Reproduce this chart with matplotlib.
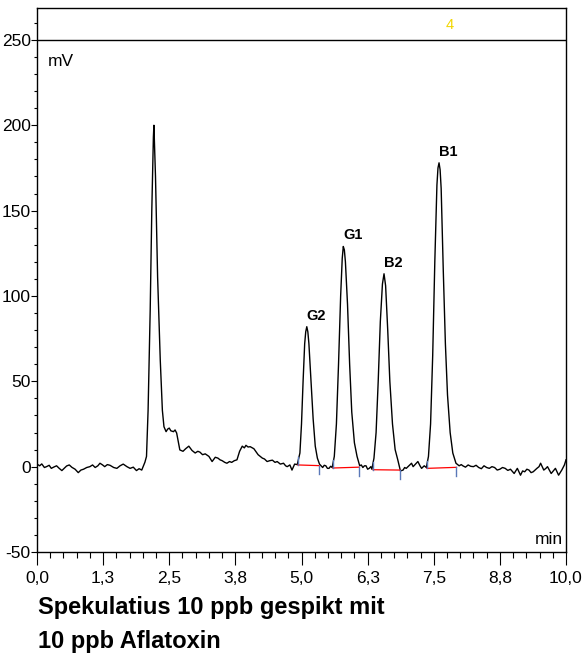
import matplotlib
matplotlib.use("Agg")
import matplotlib.pyplot as plt
from matplotlib.ticker import FixedLocator, MultipleLocator

plt.rcParams["font.family"] = ["Liberation Sans", "DejaVu Sans"]
plt.rcParams["axes.unicode_minus"] = False

# trace (time in min, signal in mV)
TIME_MIN = [
    0.00, 0.05, 0.09, 0.14, 0.18, 0.23, 0.27, 0.32, 0.37, 0.42, 0.47, 0.52,
    0.56, 0.61, 0.66, 0.72, 0.78, 0.83, 0.88, 0.94, 1.00, 1.05, 1.10, 1.15,
    1.19, 1.24, 1.28, 1.33, 1.38, 1.45, 1.51, 1.57, 1.63, 1.70, 1.76, 1.82,
    1.88, 1.93, 1.98, 2.04, 2.07, 2.10, 2.14,
    2.17, 2.20, 2.21, 2.24, 2.28, 2.33, 2.37, 2.40, 2.44, 2.47, 2.50, 2.53,
    2.58, 2.61, 2.64, 2.70, 2.76, 2.81, 2.87, 2.93, 2.99, 3.04, 3.08, 3.13,
    3.18, 3.25, 3.31, 3.37, 3.42, 3.46, 3.50, 3.55, 3.59, 3.64, 3.68, 3.73,
    3.78, 3.83, 3.88, 3.92, 3.95, 3.99, 4.03, 4.10, 4.18, 4.22, 4.26, 4.30,
    4.35, 4.40, 4.45, 4.50, 4.54, 4.60, 4.66, 4.70, 4.73, 4.78, 4.82, 4.87,
    4.92,
    # G2
    4.97, 5.00, 5.03, 5.06, 5.08, 5.10, 5.12, 5.14, 5.18, 5.22, 5.26, 5.30,
    5.34, 5.37, 5.40, 5.43, 5.46, 5.49, 5.52, 5.55, 5.58,
    # G1
    5.62, 5.66, 5.70, 5.74, 5.77, 5.79, 5.81, 5.83, 5.87, 5.91, 5.95, 6.00,
    6.05, 6.10, 6.13, 6.16, 6.19, 6.22, 6.25, 6.28, 6.31, 6.33,
    # B2
    6.37, 6.41, 6.45, 6.49, 6.53, 6.56, 6.59, 6.63, 6.67, 6.72, 6.77, 6.82,
    6.87, 6.92, 6.95, 6.98, 7.03, 7.08, 7.11, 7.14, 7.20, 7.24, 7.27, 7.32,
    7.36,
    # B1
    7.40, 7.44, 7.48, 7.52, 7.56, 7.58, 7.60, 7.62, 7.64, 7.68, 7.72, 7.76,
    7.81, 7.86, 7.92,
    # tail
    7.98, 8.02, 8.05, 8.10, 8.15, 8.20, 8.25, 8.30, 8.35, 8.40, 8.45, 8.50,
    8.55, 8.60, 8.65, 8.70, 8.75, 8.80, 8.85, 8.90, 8.95, 9.02, 9.08, 9.14,
    9.18, 9.22, 9.26, 9.30, 9.34, 9.38, 9.45, 9.49, 9.52, 9.58, 9.62, 9.65,
    9.72, 9.76, 9.80, 9.86, 9.92, 9.97, 10.00,
]
SIGNAL_MV = [
    1.5, 0.5, 1.6, -0.5, 0.0, 0.8, -1.0, -0.2, 0.5, -1.0, -2.3, -0.8,
    0.4, 1.0, -0.4, -1.5, -3.5, -2.0, -1.5, -0.5, 0.0, 1.0, -0.5, 0.5,
    2.0, 1.0, 0.0, 1.2, 0.8, -0.5, -1.0, 0.5, 1.5, 0.0, -1.0, -0.3,
    -2.3, -1.2, -2.0, 2.6, 6.0, 33.0, 92.0,
    150.0, 193.0, 200.0, 170.0, 111.0, 62.5, 33.0, 23.4, 20.5, 22.0, 22.6, 21.0,
    20.5, 21.5, 19.7, 9.8, 9.0, 10.5, 12.0, 9.5, 8.0, 9.0, 8.5, 7.0,
    7.5, 6.0, 3.0, 5.5, 5.0, 4.0, 3.5, 2.5, 2.0, 3.0, 2.5, 3.5,
    4.0, 9.0, 12.0, 11.0, 12.5, 11.5, 11.7, 10.5, 7.0, 6.0, 5.0, 4.5,
    3.0, 3.5, 3.8, 2.5, 3.0, 1.5, 2.0, 0.5, 0.0, 1.0, -2.0, 1.5,
    1.2,
    # G2
    8.0, 25.0, 50.0, 72.0, 79.0, 82.0, 79.0, 72.0, 50.0, 28.0, 12.0, 5.0,
    1.5, 0.5, -0.5, 0.8, 0.5, -1.0, -1.0, 0.2, -0.5,
    # G1
    6.0, 25.0, 60.0, 100.0, 122.0, 129.0, 127.0, 120.0, 95.0, 60.0, 32.0, 14.0,
    6.0, 0.5, 1.0, -0.5, 0.5, 0.5, -1.5, -1.0, 0.0, -1.5,
    # B2
    5.0, 20.0, 50.0, 85.0, 107.0, 113.0, 106.0, 80.0, 50.0, 25.0, 10.0, 4.0,
    -2.5, -2.0, -0.5, -1.0, 0.5, 2.0, 0.0, 1.0, 3.0, 0.5, -1.0, 0.5,
    -0.5,
    # B1
    6.0, 25.0, 65.0, 120.0, 165.0, 175.0, 178.0, 174.0, 163.0, 115.0, 72.0, 42.0,
    20.0, 8.0, 2.0,
    # tail
    0.5, 1.2, 0.5, -0.3, 1.0, 0.2, 0.0, 0.8, -0.5, -1.2, 0.5, -0.5,
    -1.0, 0.0, -0.5, -2.0, -1.5, -0.5, -1.0, -2.2, -1.5, -4.0, -1.0, -5.0,
    -2.5, -3.0, -1.5, -2.0, -3.5, -3.0, -1.0, 0.0, 2.0, -2.0, -1.0, 0.0,
    -4.0, -2.5, -1.0, -5.0, -2.0, 1.0, 4.0,
]

PEAK_NAMES = ["G2", "G1", "B2", "B1"]
PEAK_TIMES = [5.10, 5.79, 6.56, 7.60]
PEAK_MV = [82.0, 129.0, 113.0, 178.0]

# integration baselines (start/end of each peak)
BASE_START_T = [4.93, 5.59, 6.35, 7.37]
BASE_START_MV = [1.0, -0.8, -1.8, -1.0]
BASE_END_T = [5.33, 6.09, 6.86, 7.93]
BASE_END_MV = [0.6, -0.3, -2.0, -0.4]

X_TICKS = [0.0, 1.25, 2.5, 3.75, 5.0, 6.25, 7.5, 8.75, 10.0]
X_TICK_LABELS = ["0,0", "1,3", "2,5", "3,8", "5,0", "6,3", "7,5", "8,8", "10,0"]
Y_TICKS = [-50, 0, 50, 100, 150, 200, 250]

TITLE_LINES = ["Spekulatius 10 ppb gespikt mit", "10 ppb Aflatoxin"]

fig = plt.figure(figsize=(5.86, 6.61), dpi=100)
ax = fig.add_axes([37 / 586, 1 - 552 / 661, 529 / 586, 544 / 661])

ax.plot(TIME_MIN, SIGNAL_MV, color="black", linewidth=1.0)

for t0, y0, t1, y1 in zip(BASE_START_T, BASE_START_MV, BASE_END_T, BASE_END_MV):
    ax.plot([t0, t1], [y0, y1], color="red", linewidth=0.9)
    ax.plot([t0, t0], [y0, y0 + 4.5], color="#5a78b8", linewidth=1.0)
    ax.plot([t1, t1], [y1, y1 - 5.0], color="#5a78b8", linewidth=1.0)

for name, t, h in zip(PEAK_NAMES, PEAK_TIMES, PEAK_MV):
    ax.annotate(name, (t, h), xytext=(0, 3), textcoords="offset points",
                ha="left", va="bottom", fontsize=10.5, fontweight="bold")

ax.axhline(250, color="black", linewidth=1.0)

ax.set_xlim(0, 10)
ax.set_ylim(-50, 268.7)

ax.xaxis.set_major_locator(FixedLocator(X_TICKS))
ax.set_xticklabels(X_TICK_LABELS)
ax.xaxis.set_minor_locator(MultipleLocator(0.25))
ax.yaxis.set_major_locator(FixedLocator(Y_TICKS))
ax.yaxis.set_minor_locator(MultipleLocator(10))

ax.tick_params(axis="x", which="major", direction="out", length=9, width=0.8,
               labelsize=12.5, pad=4.5)
ax.tick_params(axis="x", which="minor", direction="out", length=4, width=0.8)
ax.tick_params(axis="y", which="major", direction="out", length=4, width=0.8,
               labelsize=12.5, pad=0.5)
ax.tick_params(axis="y", which="minor", direction="out", length=2.5, width=0.8)
for sp in ax.spines.values():
    sp.set_linewidth(1.0)

ax.text(0.2, 242, "mV", fontsize=12.5, ha="left", va="top")
ax.text(9.95, -47, "min", fontsize=12.5, ha="right", va="bottom")
ax.text(7.8, 259, "4", fontsize=10.5, color="#f2d600", ha="center", va="center")

fig.text(38 / 586, 1 - 614 / 661, TITLE_LINES[0], fontsize=17, fontweight="bold",
         ha="left", va="baseline")
fig.text(38 / 586, 1 - 648 / 661, TITLE_LINES[1], fontsize=17, fontweight="bold",
         ha="left", va="baseline")

fig.savefig("out.png", dpi=100)
